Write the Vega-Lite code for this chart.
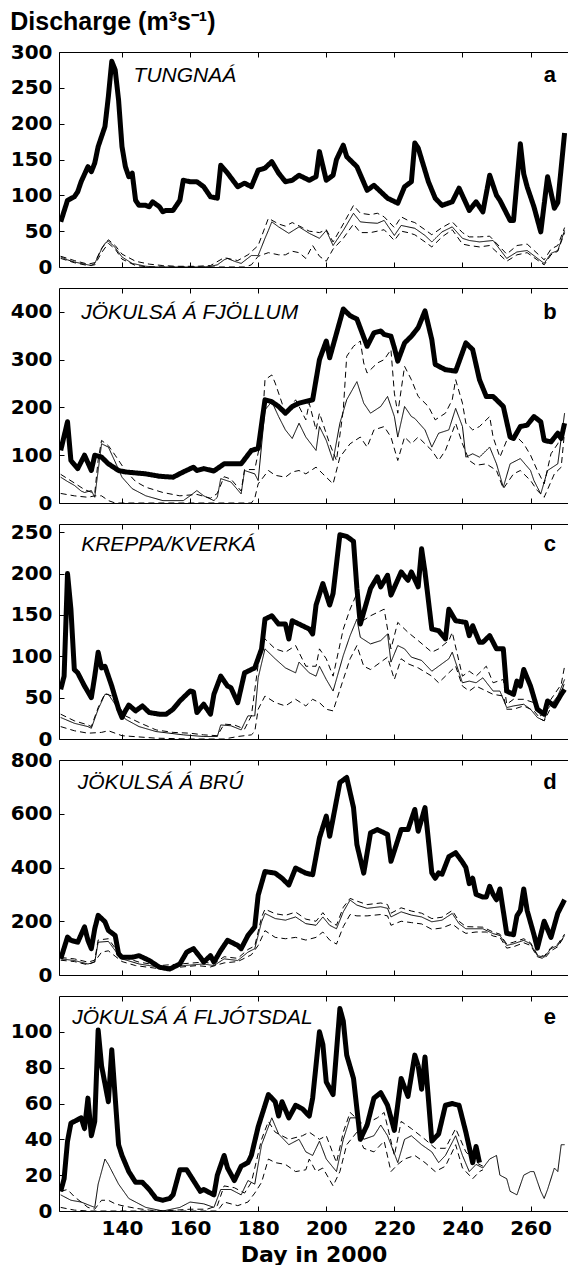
{
"$schema":"https://vega.github.io/schema/vega-lite/v6.json",
"background":"white",
"padding":{"left":10,"top":10,"right":0,"bottom":0},
"title":{"text":"Discharge (m³s⁻¹)","anchor":"start","frame":"bounds","font":"Liberation Sans","fontSize":25,"fontWeight":"bold","color":"black","offset":7},
"bounds":"flush",
"spacing":21,
"datasets":{
"a":[
{"day":122,"series":"obs","q":63},{"day":124,"series":"obs","q":93},{"day":126,"series":"obs","q":98},{"day":127,"series":"obs","q":105},{"day":128,"series":"obs","q":119},{"day":130,"series":"obs","q":140},{"day":131,"series":"obs","q":133},{"day":132,"series":"obs","q":145},{"day":133,"series":"obs","q":168},{"day":135,"series":"obs","q":196},{"day":136,"series":"obs","q":238},{"day":137,"series":"obs","q":287},{"day":138,"series":"obs","q":275},{"day":139,"series":"obs","q":233},{"day":140,"series":"obs","q":168},{"day":141,"series":"obs","q":140},{"day":142,"series":"obs","q":126},{"day":143,"series":"obs","q":131},{"day":144,"series":"obs","q":93},{"day":145,"series":"obs","q":86},{"day":147,"series":"obs","q":86},{"day":148,"series":"obs","q":84},{"day":149,"series":"obs","q":91},{"day":151,"series":"obs","q":84},{"day":152,"series":"obs","q":77},{"day":153,"series":"obs","q":79},{"day":155,"series":"obs","q":79},{"day":157,"series":"obs","q":93},{"day":158,"series":"obs","q":121},{"day":160,"series":"obs","q":119},{"day":162,"series":"obs","q":119},{"day":164,"series":"obs","q":112},{"day":166,"series":"obs","q":98},{"day":168,"series":"obs","q":96},{"day":169,"series":"obs","q":142},{"day":171,"series":"obs","q":131},{"day":174,"series":"obs","q":112},{"day":176,"series":"obs","q":117},{"day":178,"series":"obs","q":112},{"day":180,"series":"obs","q":135},{"day":182,"series":"obs","q":138},{"day":184,"series":"obs","q":147},{"day":186,"series":"obs","q":131},{"day":188,"series":"obs","q":119},{"day":190,"series":"obs","q":121},{"day":192,"series":"obs","q":128},{"day":195,"series":"obs","q":121},{"day":197,"series":"obs","q":126},{"day":198,"series":"obs","q":161},{"day":200,"series":"obs","q":121},{"day":202,"series":"obs","q":128},{"day":203,"series":"obs","q":150},{"day":205,"series":"obs","q":170},{"day":206,"series":"obs","q":154},{"day":209,"series":"obs","q":140},{"day":212,"series":"obs","q":107},{"day":214,"series":"obs","q":114},{"day":216,"series":"obs","q":105},{"day":218,"series":"obs","q":96},{"day":221,"series":"obs","q":89},{"day":223,"series":"obs","q":112},{"day":225,"series":"obs","q":119},{"day":226,"series":"obs","q":173},{"day":227,"series":"obs","q":166},{"day":230,"series":"obs","q":119},{"day":232,"series":"obs","q":96},{"day":234,"series":"obs","q":86},{"day":237,"series":"obs","q":91},{"day":239,"series":"obs","q":110},{"day":242,"series":"obs","q":79},{"day":244,"series":"obs","q":91},{"day":246,"series":"obs","q":77},{"day":248,"series":"obs","q":128},{"day":250,"series":"obs","q":100},{"day":251,"series":"obs","q":93},{"day":254,"series":"obs","q":65},{"day":255,"series":"obs","q":65},{"day":257,"series":"obs","q":172},{"day":258,"series":"obs","q":130},{"day":259,"series":"obs","q":112},{"day":261,"series":"obs","q":84},{"day":263,"series":"obs","q":49},{"day":265,"series":"obs","q":126},{"day":267,"series":"obs","q":82},{"day":268,"series":"obs","q":90},{"day":270,"series":"obs","q":187},
{"day":122,"series":"sim","q":14},{"day":124,"series":"sim","q":10},{"day":126,"series":"sim","q":7},{"day":128,"series":"sim","q":5},{"day":130,"series":"sim","q":3},{"day":131,"series":"sim","q":2},{"day":132,"series":"sim","q":5},{"day":134,"series":"sim","q":25},{"day":135,"series":"sim","q":33},{"day":136,"series":"sim","q":36},{"day":137,"series":"sim","q":32},{"day":138,"series":"sim","q":27},{"day":140,"series":"sim","q":14},{"day":143,"series":"sim","q":5},{"day":147,"series":"sim","q":1},{"day":150,"series":"sim","q":0},{"day":155,"series":"sim","q":0},{"day":160,"series":"sim","q":0},{"day":164,"series":"sim","q":0},{"day":166,"series":"sim","q":1},{"day":168,"series":"sim","q":3},{"day":170,"series":"sim","q":10},{"day":171,"series":"sim","q":12},{"day":173,"series":"sim","q":8},{"day":175,"series":"sim","q":5},{"day":178,"series":"sim","q":16},{"day":180,"series":"sim","q":16},{"day":182,"series":"sim","q":40},{"day":183,"series":"sim","q":51},{"day":184,"series":"sim","q":63},{"day":186,"series":"sim","q":56},{"day":189,"series":"sim","q":47},{"day":192,"series":"sim","q":56},{"day":195,"series":"sim","q":47},{"day":198,"series":"sim","q":40},{"day":200,"series":"sim","q":51},{"day":202,"series":"sim","q":30},{"day":205,"series":"sim","q":51},{"day":208,"series":"sim","q":75},{"day":210,"series":"sim","q":63},{"day":212,"series":"sim","q":62},{"day":215,"series":"sim","q":61},{"day":217,"series":"sim","q":65},{"day":220,"series":"sim","q":44},{"day":222,"series":"sim","q":58},{"day":226,"series":"sim","q":54},{"day":229,"series":"sim","q":44},{"day":231,"series":"sim","q":35},{"day":234,"series":"sim","q":49},{"day":237,"series":"sim","q":56},{"day":240,"series":"sim","q":40},{"day":242,"series":"sim","q":37},{"day":245,"series":"sim","q":35},{"day":249,"series":"sim","q":37},{"day":253,"series":"sim","q":12},{"day":256,"series":"sim","q":21},{"day":259,"series":"sim","q":23},{"day":264,"series":"sim","q":5},{"day":266,"series":"sim","q":19},{"day":268,"series":"sim","q":23},{"day":270,"series":"sim","q":51},
{"day":122,"series":"hi","q":15},{"day":126,"series":"hi","q":9},{"day":130,"series":"hi","q":4},{"day":132,"series":"hi","q":6},{"day":134,"series":"hi","q":26},{"day":136,"series":"hi","q":38},{"day":138,"series":"hi","q":30},{"day":140,"series":"hi","q":18},{"day":144,"series":"hi","q":8},{"day":148,"series":"hi","q":4},{"day":152,"series":"hi","q":2},{"day":156,"series":"hi","q":1},{"day":162,"series":"hi","q":1},{"day":166,"series":"hi","q":2},{"day":170,"series":"hi","q":13},{"day":174,"series":"hi","q":9},{"day":177,"series":"hi","q":17},{"day":180,"series":"hi","q":30},{"day":183,"series":"hi","q":68},{"day":186,"series":"hi","q":60},{"day":188,"series":"hi","q":57},{"day":190,"series":"hi","q":62},{"day":193,"series":"hi","q":55},{"day":195,"series":"hi","q":50},{"day":198,"series":"hi","q":48},{"day":200,"series":"hi","q":52},{"day":202,"series":"hi","q":35},{"day":205,"series":"hi","q":60},{"day":208,"series":"hi","q":86},{"day":210,"series":"hi","q":75},{"day":213,"series":"hi","q":73},{"day":215,"series":"hi","q":75},{"day":217,"series":"hi","q":70},{"day":220,"series":"hi","q":55},{"day":222,"series":"hi","q":70},{"day":224,"series":"hi","q":65},{"day":226,"series":"hi","q":62},{"day":229,"series":"hi","q":52},{"day":231,"series":"hi","q":45},{"day":234,"series":"hi","q":55},{"day":237,"series":"hi","q":63},{"day":240,"series":"hi","q":48},{"day":242,"series":"hi","q":42},{"day":245,"series":"hi","q":42},{"day":248,"series":"hi","q":43},{"day":253,"series":"hi","q":18},{"day":256,"series":"hi","q":30},{"day":259,"series":"hi","q":32},{"day":264,"series":"hi","q":10},{"day":266,"series":"hi","q":25},{"day":268,"series":"hi","q":30},{"day":270,"series":"hi","q":55},
{"day":122,"series":"lo","q":12},{"day":126,"series":"lo","q":6},{"day":130,"series":"lo","q":2},{"day":132,"series":"lo","q":3},{"day":134,"series":"lo","q":20},{"day":136,"series":"lo","q":33},{"day":138,"series":"lo","q":25},{"day":140,"series":"lo","q":11},{"day":144,"series":"lo","q":2},{"day":148,"series":"lo","q":0},{"day":160,"series":"lo","q":0},{"day":170,"series":"lo","q":0},{"day":176,"series":"lo","q":0},{"day":178,"series":"lo","q":3},{"day":180,"series":"lo","q":15},{"day":183,"series":"lo","q":20},{"day":186,"series":"lo","q":17},{"day":188,"series":"lo","q":17},{"day":190,"series":"lo","q":22},{"day":192,"series":"lo","q":20},{"day":194,"series":"lo","q":12},{"day":196,"series":"lo","q":30},{"day":198,"series":"lo","q":15},{"day":200,"series":"lo","q":8},{"day":202,"series":"lo","q":25},{"day":205,"series":"lo","q":40},{"day":208,"series":"lo","q":60},{"day":210,"series":"lo","q":48},{"day":213,"series":"lo","q":48},{"day":215,"series":"lo","q":50},{"day":217,"series":"lo","q":52},{"day":220,"series":"lo","q":37},{"day":222,"series":"lo","q":50},{"day":224,"series":"lo","q":48},{"day":226,"series":"lo","q":45},{"day":229,"series":"lo","q":35},{"day":231,"series":"lo","q":28},{"day":234,"series":"lo","q":42},{"day":237,"series":"lo","q":52},{"day":240,"series":"lo","q":32},{"day":242,"series":"lo","q":30},{"day":245,"series":"lo","q":28},{"day":248,"series":"lo","q":30},{"day":253,"series":"lo","q":8},{"day":256,"series":"lo","q":17},{"day":259,"series":"lo","q":20},{"day":264,"series":"lo","q":3},{"day":266,"series":"lo","q":17},{"day":268,"series":"lo","q":22},{"day":270,"series":"lo","q":48}
],
"b":[
{"day":122,"series":"obs","q":110},{"day":124,"series":"obs","q":170},{"day":125,"series":"obs","q":89},{"day":127,"series":"obs","q":72},{"day":129,"series":"obs","q":100},{"day":131,"series":"obs","q":68},{"day":132,"series":"obs","q":100},{"day":134,"series":"obs","q":96},{"day":136,"series":"obs","q":82},{"day":139,"series":"obs","q":68},{"day":141,"series":"obs","q":65},{"day":147,"series":"obs","q":61},{"day":151,"series":"obs","q":56},{"day":155,"series":"obs","q":54},{"day":158,"series":"obs","q":65},{"day":161,"series":"obs","q":75},{"day":162,"series":"obs","q":68},{"day":164,"series":"obs","q":72},{"day":167,"series":"obs","q":67},{"day":170,"series":"obs","q":82},{"day":175,"series":"obs","q":82},{"day":178,"series":"obs","q":110},{"day":180,"series":"obs","q":114},{"day":182,"series":"obs","q":216},{"day":184,"series":"obs","q":212},{"day":186,"series":"obs","q":202},{"day":188,"series":"obs","q":188},{"day":190,"series":"obs","q":202},{"day":192,"series":"obs","q":209},{"day":196,"series":"obs","q":216},{"day":198,"series":"obs","q":300},{"day":200,"series":"obs","q":339},{"day":201,"series":"obs","q":304},{"day":205,"series":"obs","q":406},{"day":207,"series":"obs","q":392},{"day":209,"series":"obs","q":385},{"day":212,"series":"obs","q":328},{"day":214,"series":"obs","q":356},{"day":216,"series":"obs","q":360},{"day":217,"series":"obs","q":353},{"day":219,"series":"obs","q":349},{"day":220,"series":"obs","q":325},{"day":221,"series":"obs","q":297},{"day":223,"series":"obs","q":335},{"day":225,"series":"obs","q":349},{"day":227,"series":"obs","q":367},{"day":229,"series":"obs","q":402},{"day":231,"series":"obs","q":342},{"day":232,"series":"obs","q":290},{"day":235,"series":"obs","q":279},{"day":238,"series":"obs","q":276},{"day":241,"series":"obs","q":335},{"day":243,"series":"obs","q":321},{"day":245,"series":"obs","q":258},{"day":247,"series":"obs","q":223},{"day":249,"series":"obs","q":223},{"day":251,"series":"obs","q":209},{"day":252,"series":"obs","q":202},{"day":254,"series":"obs","q":138},{"day":255,"series":"obs","q":135},{"day":257,"series":"obs","q":160},{"day":259,"series":"obs","q":163},{"day":261,"series":"obs","q":181},{"day":263,"series":"obs","q":170},{"day":264,"series":"obs","q":131},{"day":266,"series":"obs","q":128},{"day":268,"series":"obs","q":146},{"day":269,"series":"obs","q":135},{"day":270,"series":"obs","q":167},
{"day":122,"series":"sim","q":54},{"day":124,"series":"sim","q":45},{"day":126,"series":"sim","q":37},{"day":128,"series":"sim","q":25},{"day":129,"series":"sim","q":22},{"day":131,"series":"sim","q":26},{"day":132,"series":"sim","q":12},{"day":133,"series":"sim","q":68},{"day":134,"series":"sim","q":124},{"day":136,"series":"sim","q":117},{"day":138,"series":"sim","q":86},{"day":140,"series":"sim","q":54},{"day":143,"series":"sim","q":30},{"day":147,"series":"sim","q":15},{"day":152,"series":"sim","q":5},{"day":158,"series":"sim","q":5},{"day":160,"series":"sim","q":15},{"day":162,"series":"sim","q":26},{"day":164,"series":"sim","q":15},{"day":167,"series":"sim","q":5},{"day":168,"series":"sim","q":12},{"day":169,"series":"sim","q":51},{"day":172,"series":"sim","q":44},{"day":175,"series":"sim","q":19},{"day":176,"series":"sim","q":68},{"day":179,"series":"sim","q":61},{"day":180,"series":"sim","q":47},{"day":182,"series":"sim","q":195},{"day":184,"series":"sim","q":212},{"day":186,"series":"sim","q":181},{"day":188,"series":"sim","q":153},{"day":190,"series":"sim","q":135},{"day":192,"series":"sim","q":167},{"day":194,"series":"sim","q":138},{"day":197,"series":"sim","q":110},{"day":198,"series":"sim","q":160},{"day":200,"series":"sim","q":131},{"day":202,"series":"sim","q":89},{"day":204,"series":"sim","q":167},{"day":206,"series":"sim","q":216},{"day":209,"series":"sim","q":254},{"day":211,"series":"sim","q":209},{"day":213,"series":"sim","q":188},{"day":216,"series":"sim","q":202},{"day":218,"series":"sim","q":223},{"day":220,"series":"sim","q":181},{"day":221,"series":"sim","q":138},{"day":223,"series":"sim","q":202},{"day":225,"series":"sim","q":181},{"day":226,"series":"sim","q":177},{"day":229,"series":"sim","q":153},{"day":231,"series":"sim","q":117},{"day":233,"series":"sim","q":146},{"day":236,"series":"sim","q":153},{"day":238,"series":"sim","q":198},{"day":240,"series":"sim","q":160},{"day":241,"series":"sim","q":96},{"day":243,"series":"sim","q":103},{"day":245,"series":"sim","q":96},{"day":248,"series":"sim","q":117},{"day":250,"series":"sim","q":82},{"day":252,"series":"sim","q":33},{"day":254,"series":"sim","q":82},{"day":257,"series":"sim","q":93},{"day":260,"series":"sim","q":68},{"day":261,"series":"sim","q":47},{"day":263,"series":"sim","q":19},{"day":265,"series":"sim","q":68},{"day":268,"series":"sim","q":82},{"day":270,"series":"sim","q":188},
{"day":122,"series":"hi","q":60},{"day":126,"series":"hi","q":42},{"day":129,"series":"hi","q":28},{"day":132,"series":"hi","q":20},{"day":133,"series":"hi","q":90},{"day":134,"series":"hi","q":131},{"day":136,"series":"hi","q":120},{"day":138,"series":"hi","q":100},{"day":141,"series":"hi","q":68},{"day":144,"series":"hi","q":45},{"day":147,"series":"hi","q":33},{"day":152,"series":"hi","q":22},{"day":157,"series":"hi","q":15},{"day":162,"series":"hi","q":18},{"day":166,"series":"hi","q":10},{"day":168,"series":"hi","q":20},{"day":170,"series":"hi","q":55},{"day":172,"series":"hi","q":50},{"day":175,"series":"hi","q":25},{"day":176,"series":"hi","q":70},{"day":179,"series":"hi","q":70},{"day":181,"series":"hi","q":140},{"day":182,"series":"hi","q":258},{"day":184,"series":"hi","q":268},{"day":185,"series":"hi","q":251},{"day":187,"series":"hi","q":209},{"day":188,"series":"hi","q":188},{"day":191,"series":"hi","q":216},{"day":194,"series":"hi","q":174},{"day":195,"series":"hi","q":209},{"day":197,"series":"hi","q":153},{"day":198,"series":"hi","q":188},{"day":201,"series":"hi","q":124},{"day":203,"series":"hi","q":89},{"day":205,"series":"hi","q":195},{"day":206,"series":"hi","q":307},{"day":208,"series":"hi","q":328},{"day":210,"series":"hi","q":339},{"day":211,"series":"hi","q":293},{"day":212,"series":"hi","q":272},{"day":215,"series":"hi","q":293},{"day":217,"series":"hi","q":300},{"day":219,"series":"hi","q":321},{"day":220,"series":"hi","q":230},{"day":221,"series":"hi","q":188},{"day":223,"series":"hi","q":286},{"day":225,"series":"hi","q":258},{"day":227,"series":"hi","q":223},{"day":230,"series":"hi","q":202},{"day":232,"series":"hi","q":174},{"day":235,"series":"hi","q":188},{"day":237,"series":"hi","q":216},{"day":238,"series":"hi","q":258},{"day":240,"series":"hi","q":209},{"day":241,"series":"hi","q":167},{"day":243,"series":"hi","q":153},{"day":245,"series":"hi","q":160},{"day":248,"series":"hi","q":181},{"day":249,"series":"hi","q":138},{"day":251,"series":"hi","q":96},{"day":253,"series":"hi","q":131},{"day":256,"series":"hi","q":138},{"day":258,"series":"hi","q":124},{"day":260,"series":"hi","q":100},{"day":262,"series":"hi","q":68},{"day":264,"series":"hi","q":40},{"day":266,"series":"hi","q":103},{"day":268,"series":"hi","q":124},{"day":270,"series":"hi","q":167},
{"day":122,"series":"lo","q":20},{"day":126,"series":"lo","q":15},{"day":130,"series":"lo","q":12},{"day":132,"series":"lo","q":15},{"day":134,"series":"lo","q":15},{"day":136,"series":"lo","q":5},{"day":138,"series":"lo","q":0},{"day":150,"series":"lo","q":0},{"day":160,"series":"lo","q":0},{"day":170,"series":"lo","q":0},{"day":178,"series":"lo","q":0},{"day":179,"series":"lo","q":10},{"day":180,"series":"lo","q":40},{"day":183,"series":"lo","q":68},{"day":185,"series":"lo","q":58},{"day":188,"series":"lo","q":54},{"day":190,"series":"lo","q":65},{"day":192,"series":"lo","q":68},{"day":194,"series":"lo","q":61},{"day":197,"series":"lo","q":75},{"day":199,"series":"lo","q":61},{"day":202,"series":"lo","q":40},{"day":204,"series":"lo","q":96},{"day":207,"series":"lo","q":124},{"day":210,"series":"lo","q":138},{"day":212,"series":"lo","q":117},{"day":214,"series":"lo","q":153},{"day":217,"series":"lo","q":160},{"day":219,"series":"lo","q":138},{"day":221,"series":"lo","q":89},{"day":223,"series":"lo","q":138},{"day":225,"series":"lo","q":124},{"day":227,"series":"lo","q":138},{"day":231,"series":"lo","q":110},{"day":233,"series":"lo","q":89},{"day":235,"series":"lo","q":110},{"day":238,"series":"lo","q":167},{"day":240,"series":"lo","q":124},{"day":242,"series":"lo","q":89},{"day":244,"series":"lo","q":79},{"day":247,"series":"lo","q":82},{"day":250,"series":"lo","q":68},{"day":252,"series":"lo","q":30},{"day":255,"series":"lo","q":61},{"day":257,"series":"lo","q":68},{"day":260,"series":"lo","q":47},{"day":262,"series":"lo","q":26},{"day":264,"series":"lo","q":12},{"day":267,"series":"lo","q":61},{"day":269,"series":"lo","q":75},{"day":270,"series":"lo","q":150}
],
"c":[
{"day":122,"series":"obs","q":60},{"day":123,"series":"obs","q":76},{"day":124,"series":"obs","q":200},{"day":125,"series":"obs","q":157},{"day":126,"series":"obs","q":84},{"day":127,"series":"obs","q":80},{"day":129,"series":"obs","q":64},{"day":131,"series":"obs","q":50},{"day":132,"series":"obs","q":76},{"day":133,"series":"obs","q":105},{"day":134,"series":"obs","q":86},{"day":135,"series":"obs","q":88},{"day":137,"series":"obs","q":64},{"day":138,"series":"obs","q":50},{"day":139,"series":"obs","q":36},{"day":140,"series":"obs","q":26},{"day":141,"series":"obs","q":34},{"day":142,"series":"obs","q":41},{"day":144,"series":"obs","q":34},{"day":146,"series":"obs","q":40},{"day":148,"series":"obs","q":32},{"day":151,"series":"obs","q":30},{"day":153,"series":"obs","q":30},{"day":155,"series":"obs","q":36},{"day":157,"series":"obs","q":46},{"day":160,"series":"obs","q":58},{"day":161,"series":"obs","q":57},{"day":162,"series":"obs","q":32},{"day":164,"series":"obs","q":42},{"day":166,"series":"obs","q":30},{"day":167,"series":"obs","q":54},{"day":169,"series":"obs","q":76},{"day":171,"series":"obs","q":64},{"day":172,"series":"obs","q":62},{"day":174,"series":"obs","q":44},{"day":176,"series":"obs","q":80},{"day":177,"series":"obs","q":82},{"day":179,"series":"obs","q":86},{"day":181,"series":"obs","q":109},{"day":182,"series":"obs","q":145},{"day":184,"series":"obs","q":149},{"day":186,"series":"obs","q":139},{"day":188,"series":"obs","q":139},{"day":189,"series":"obs","q":121},{"day":190,"series":"obs","q":143},{"day":192,"series":"obs","q":139},{"day":195,"series":"obs","q":133},{"day":196,"series":"obs","q":127},{"day":197,"series":"obs","q":162},{"day":199,"series":"obs","q":188},{"day":201,"series":"obs","q":162},{"day":202,"series":"obs","q":176},{"day":204,"series":"obs","q":247},{"day":206,"series":"obs","q":245},{"day":208,"series":"obs","q":239},{"day":209,"series":"obs","q":182},{"day":210,"series":"obs","q":139},{"day":213,"series":"obs","q":182},{"day":215,"series":"obs","q":196},{"day":216,"series":"obs","q":184},{"day":218,"series":"obs","q":198},{"day":219,"series":"obs","q":174},{"day":222,"series":"obs","q":202},{"day":224,"series":"obs","q":192},{"day":225,"series":"obs","q":202},{"day":227,"series":"obs","q":184},{"day":228,"series":"obs","q":230},{"day":229,"series":"obs","q":202},{"day":231,"series":"obs","q":133},{"day":233,"series":"obs","q":131},{"day":235,"series":"obs","q":121},{"day":236,"series":"obs","q":157},{"day":238,"series":"obs","q":143},{"day":241,"series":"obs","q":141},{"day":242,"series":"obs","q":125},{"day":243,"series":"obs","q":137},{"day":245,"series":"obs","q":117},{"day":246,"series":"obs","q":117},{"day":248,"series":"obs","q":125},{"day":250,"series":"obs","q":109},{"day":252,"series":"obs","q":109},{"day":253,"series":"obs","q":58},{"day":255,"series":"obs","q":54},{"day":256,"series":"obs","q":70},{"day":257,"series":"obs","q":64},{"day":258,"series":"obs","q":84},{"day":260,"series":"obs","q":64},{"day":262,"series":"obs","q":36},{"day":264,"series":"obs","q":30},{"day":265,"series":"obs","q":46},{"day":267,"series":"obs","q":40},{"day":269,"series":"obs","q":54},{"day":270,"series":"obs","q":60},
{"day":122,"series":"sim","q":26},{"day":126,"series":"sim","q":19},{"day":130,"series":"sim","q":15},{"day":131,"series":"sim","q":13},{"day":133,"series":"sim","q":36},{"day":135,"series":"sim","q":54},{"day":136,"series":"sim","q":54},{"day":139,"series":"sim","q":36},{"day":141,"series":"sim","q":24},{"day":145,"series":"sim","q":15},{"day":150,"series":"sim","q":9},{"day":158,"series":"sim","q":5},{"day":164,"series":"sim","q":3},{"day":168,"series":"sim","q":3},{"day":169,"series":"sim","q":17},{"day":172,"series":"sim","q":16},{"day":175,"series":"sim","q":11},{"day":177,"series":"sim","q":28},{"day":179,"series":"sim","q":28},{"day":180,"series":"sim","q":74},{"day":182,"series":"sim","q":109},{"day":185,"series":"sim","q":97},{"day":188,"series":"sim","q":86},{"day":191,"series":"sim","q":80},{"day":192,"series":"sim","q":93},{"day":195,"series":"sim","q":80},{"day":197,"series":"sim","q":76},{"day":198,"series":"sim","q":88},{"day":200,"series":"sim","q":72},{"day":202,"series":"sim","q":58},{"day":205,"series":"sim","q":101},{"day":207,"series":"sim","q":125},{"day":209,"series":"sim","q":145},{"day":210,"series":"sim","q":123},{"day":213,"series":"sim","q":115},{"day":216,"series":"sim","q":119},{"day":218,"series":"sim","q":127},{"day":219,"series":"sim","q":93},{"day":221,"series":"sim","q":113},{"day":223,"series":"sim","q":109},{"day":225,"series":"sim","q":99},{"day":228,"series":"sim","q":95},{"day":231,"series":"sim","q":82},{"day":233,"series":"sim","q":88},{"day":236,"series":"sim","q":97},{"day":237,"series":"sim","q":105},{"day":240,"series":"sim","q":68},{"day":242,"series":"sim","q":70},{"day":244,"series":"sim","q":68},{"day":246,"series":"sim","q":74},{"day":249,"series":"sim","q":58},{"day":251,"series":"sim","q":58},{"day":253,"series":"sim","q":38},{"day":255,"series":"sim","q":40},{"day":258,"series":"sim","q":42},{"day":260,"series":"sim","q":36},{"day":262,"series":"sim","q":26},{"day":264,"series":"sim","q":22},{"day":265,"series":"sim","q":36},{"day":268,"series":"sim","q":52},{"day":270,"series":"sim","q":72},
{"day":122,"series":"hi","q":30},{"day":126,"series":"hi","q":22},{"day":130,"series":"hi","q":17},{"day":131,"series":"hi","q":15},{"day":133,"series":"hi","q":38},{"day":135,"series":"hi","q":55},{"day":137,"series":"hi","q":52},{"day":139,"series":"hi","q":40},{"day":141,"series":"hi","q":28},{"day":145,"series":"hi","q":20},{"day":150,"series":"hi","q":11},{"day":155,"series":"hi","q":8},{"day":160,"series":"hi","q":7},{"day":164,"series":"hi","q":5},{"day":168,"series":"hi","q":4},{"day":170,"series":"hi","q":18},{"day":173,"series":"hi","q":17},{"day":176,"series":"hi","q":12},{"day":178,"series":"hi","q":28},{"day":180,"series":"hi","q":90},{"day":182,"series":"hi","q":121},{"day":185,"series":"hi","q":109},{"day":188,"series":"hi","q":105},{"day":191,"series":"hi","q":113},{"day":194,"series":"hi","q":88},{"day":197,"series":"hi","q":88},{"day":198,"series":"hi","q":109},{"day":200,"series":"hi","q":97},{"day":202,"series":"hi","q":76},{"day":205,"series":"hi","q":133},{"day":207,"series":"hi","q":157},{"day":209,"series":"hi","q":176},{"day":210,"series":"hi","q":141},{"day":213,"series":"hi","q":149},{"day":216,"series":"hi","q":155},{"day":217,"series":"hi","q":157},{"day":219,"series":"hi","q":109},{"day":221,"series":"hi","q":141},{"day":224,"series":"hi","q":129},{"day":227,"series":"hi","q":119},{"day":231,"series":"hi","q":105},{"day":233,"series":"hi","q":109},{"day":236,"series":"hi","q":119},{"day":237,"series":"hi","q":129},{"day":240,"series":"hi","q":76},{"day":242,"series":"hi","q":82},{"day":244,"series":"hi","q":76},{"day":247,"series":"hi","q":88},{"day":249,"series":"hi","q":68},{"day":252,"series":"hi","q":72},{"day":253,"series":"hi","q":42},{"day":255,"series":"hi","q":48},{"day":258,"series":"hi","q":48},{"day":261,"series":"hi","q":44},{"day":263,"series":"hi","q":28},{"day":264,"series":"hi","q":32},{"day":266,"series":"hi","q":48},{"day":269,"series":"hi","q":66},{"day":270,"series":"hi","q":88},
{"day":122,"series":"lo","q":15},{"day":126,"series":"lo","q":10},{"day":130,"series":"lo","q":7},{"day":134,"series":"lo","q":8},{"day":136,"series":"lo","q":10},{"day":140,"series":"lo","q":4},{"day":150,"series":"lo","q":1},{"day":160,"series":"lo","q":0},{"day":170,"series":"lo","q":0},{"day":174,"series":"lo","q":3},{"day":178,"series":"lo","q":5},{"day":179,"series":"lo","q":9},{"day":180,"series":"lo","q":36},{"day":182,"series":"lo","q":52},{"day":185,"series":"lo","q":44},{"day":188,"series":"lo","q":40},{"day":191,"series":"lo","q":48},{"day":194,"series":"lo","q":40},{"day":196,"series":"lo","q":48},{"day":198,"series":"lo","q":44},{"day":200,"series":"lo","q":36},{"day":202,"series":"lo","q":34},{"day":205,"series":"lo","q":72},{"day":207,"series":"lo","q":97},{"day":209,"series":"lo","q":113},{"day":211,"series":"lo","q":88},{"day":213,"series":"lo","q":84},{"day":216,"series":"lo","q":93},{"day":218,"series":"lo","q":99},{"day":220,"series":"lo","q":72},{"day":222,"series":"lo","q":97},{"day":224,"series":"lo","q":91},{"day":227,"series":"lo","q":86},{"day":231,"series":"lo","q":76},{"day":233,"series":"lo","q":68},{"day":236,"series":"lo","q":80},{"day":238,"series":"lo","q":88},{"day":240,"series":"lo","q":64},{"day":242,"series":"lo","q":58},{"day":244,"series":"lo","q":64},{"day":247,"series":"lo","q":58},{"day":249,"series":"lo","q":54},{"day":252,"series":"lo","q":52},{"day":253,"series":"lo","q":36},{"day":255,"series":"lo","q":36},{"day":258,"series":"lo","q":40},{"day":261,"series":"lo","q":34},{"day":263,"series":"lo","q":24},{"day":264,"series":"lo","q":22},{"day":266,"series":"lo","q":38},{"day":269,"series":"lo","q":56},{"day":270,"series":"lo","q":68}
],
"d":[
{"day":122,"series":"obs","q":60},{"day":124,"series":"obs","q":141},{"day":125,"series":"obs","q":129},{"day":127,"series":"obs","q":122},{"day":129,"series":"obs","q":179},{"day":130,"series":"obs","q":129},{"day":131,"series":"obs","q":98},{"day":132,"series":"obs","q":172},{"day":133,"series":"obs","q":222},{"day":135,"series":"obs","q":198},{"day":136,"series":"obs","q":166},{"day":138,"series":"obs","q":147},{"day":139,"series":"obs","q":79},{"day":140,"series":"obs","q":66},{"day":143,"series":"obs","q":66},{"day":145,"series":"obs","q":72},{"day":148,"series":"obs","q":54},{"day":151,"series":"obs","q":29},{"day":154,"series":"obs","q":22},{"day":157,"series":"obs","q":41},{"day":159,"series":"obs","q":85},{"day":161,"series":"obs","q":98},{"day":163,"series":"obs","q":66},{"day":164,"series":"obs","q":48},{"day":166,"series":"obs","q":72},{"day":167,"series":"obs","q":48},{"day":169,"series":"obs","q":91},{"day":171,"series":"obs","q":129},{"day":174,"series":"obs","q":110},{"day":175,"series":"obs","q":98},{"day":177,"series":"obs","q":147},{"day":179,"series":"obs","q":179},{"day":180,"series":"obs","q":297},{"day":182,"series":"obs","q":385},{"day":185,"series":"obs","q":379},{"day":187,"series":"obs","q":360},{"day":189,"series":"obs","q":335},{"day":191,"series":"obs","q":398},{"day":194,"series":"obs","q":379},{"day":196,"series":"obs","q":373},{"day":198,"series":"obs","q":510},{"day":200,"series":"obs","q":591},{"day":201,"series":"obs","q":516},{"day":204,"series":"obs","q":716},{"day":206,"series":"obs","q":735},{"day":208,"series":"obs","q":623},{"day":209,"series":"obs","q":485},{"day":211,"series":"obs","q":379},{"day":213,"series":"obs","q":529},{"day":215,"series":"obs","q":541},{"day":218,"series":"obs","q":523},{"day":219,"series":"obs","q":423},{"day":222,"series":"obs","q":541},{"day":224,"series":"obs","q":541},{"day":226,"series":"obs","q":616},{"day":227,"series":"obs","q":535},{"day":229,"series":"obs","q":623},{"day":231,"series":"obs","q":380},{"day":232,"series":"obs","q":360},{"day":233,"series":"obs","q":380},{"day":234,"series":"obs","q":375},{"day":236,"series":"obs","q":440},{"day":238,"series":"obs","q":455},{"day":240,"series":"obs","q":420},{"day":241,"series":"obs","q":400},{"day":242,"series":"obs","q":340},{"day":243,"series":"obs","q":360},{"day":244,"series":"obs","q":300},{"day":246,"series":"obs","q":290},{"day":247,"series":"obs","q":290},{"day":248,"series":"obs","q":330},{"day":249,"series":"obs","q":300},{"day":250,"series":"obs","q":280},{"day":251,"series":"obs","q":320},{"day":253,"series":"obs","q":155},{"day":255,"series":"obs","q":150},{"day":256,"series":"obs","q":220},{"day":257,"series":"obs","q":240},{"day":258,"series":"obs","q":320},{"day":259,"series":"obs","q":240},{"day":261,"series":"obs","q":150},{"day":262,"series":"obs","q":100},{"day":264,"series":"obs","q":200},{"day":266,"series":"obs","q":140},{"day":268,"series":"obs","q":230},{"day":270,"series":"obs","q":280},
{"day":122,"series":"sim","q":60},{"day":126,"series":"sim","q":54},{"day":130,"series":"sim","q":41},{"day":132,"series":"sim","q":48},{"day":133,"series":"sim","q":122},{"day":136,"series":"sim","q":125},{"day":138,"series":"sim","q":91},{"day":140,"series":"sim","q":60},{"day":145,"series":"sim","q":41},{"day":151,"series":"sim","q":29},{"day":158,"series":"sim","q":35},{"day":164,"series":"sim","q":41},{"day":167,"series":"sim","q":35},{"day":170,"series":"sim","q":60},{"day":174,"series":"sim","q":54},{"day":177,"series":"sim","q":85},{"day":179,"series":"sim","q":98},{"day":181,"series":"sim","q":198},{"day":182,"series":"sim","q":229},{"day":185,"series":"sim","q":210},{"day":188,"series":"sim","q":204},{"day":191,"series":"sim","q":216},{"day":194,"series":"sim","q":191},{"day":197,"series":"sim","q":185},{"day":199,"series":"sim","q":216},{"day":201,"series":"sim","q":185},{"day":203,"series":"sim","q":172},{"day":205,"series":"sim","q":235},{"day":207,"series":"sim","q":279},{"day":209,"series":"sim","q":260},{"day":212,"series":"sim","q":248},{"day":216,"series":"sim","q":254},{"day":218,"series":"sim","q":248},{"day":219,"series":"sim","q":216},{"day":222,"series":"sim","q":235},{"day":225,"series":"sim","q":223},{"day":228,"series":"sim","q":216},{"day":231,"series":"sim","q":198},{"day":234,"series":"sim","q":204},{"day":237,"series":"sim","q":229},{"day":239,"series":"sim","q":191},{"day":241,"series":"sim","q":172},{"day":246,"series":"sim","q":172},{"day":249,"series":"sim","q":154},{"day":251,"series":"sim","q":147},{"day":253,"series":"sim","q":110},{"day":255,"series":"sim","q":116},{"day":258,"series":"sim","q":129},{"day":260,"series":"sim","q":116},{"day":262,"series":"sim","q":72},{"day":264,"series":"sim","q":66},{"day":266,"series":"sim","q":98},{"day":268,"series":"sim","q":110},{"day":270,"series":"sim","q":147},
{"day":122,"series":"hi","q":65},{"day":126,"series":"hi","q":60},{"day":130,"series":"hi","q":48},{"day":132,"series":"hi","q":55},{"day":133,"series":"hi","q":130},{"day":136,"series":"hi","q":135},{"day":138,"series":"hi","q":100},{"day":140,"series":"hi","q":68},{"day":145,"series":"hi","q":48},{"day":151,"series":"hi","q":35},{"day":158,"series":"hi","q":42},{"day":164,"series":"hi","q":48},{"day":167,"series":"hi","q":42},{"day":170,"series":"hi","q":68},{"day":174,"series":"hi","q":62},{"day":177,"series":"hi","q":95},{"day":179,"series":"hi","q":108},{"day":181,"series":"hi","q":215},{"day":182,"series":"hi","q":245},{"day":185,"series":"hi","q":228},{"day":188,"series":"hi","q":222},{"day":191,"series":"hi","q":234},{"day":194,"series":"hi","q":208},{"day":197,"series":"hi","q":200},{"day":199,"series":"hi","q":232},{"day":201,"series":"hi","q":200},{"day":203,"series":"hi","q":185},{"day":205,"series":"hi","q":252},{"day":207,"series":"hi","q":285},{"day":209,"series":"hi","q":275},{"day":212,"series":"hi","q":262},{"day":216,"series":"hi","q":268},{"day":218,"series":"hi","q":262},{"day":219,"series":"hi","q":230},{"day":222,"series":"hi","q":250},{"day":225,"series":"hi","q":238},{"day":228,"series":"hi","q":230},{"day":231,"series":"hi","q":210},{"day":234,"series":"hi","q":215},{"day":237,"series":"hi","q":240},{"day":239,"series":"hi","q":200},{"day":241,"series":"hi","q":180},{"day":246,"series":"hi","q":178},{"day":249,"series":"hi","q":160},{"day":251,"series":"hi","q":152},{"day":253,"series":"hi","q":115},{"day":255,"series":"hi","q":122},{"day":258,"series":"hi","q":135},{"day":260,"series":"hi","q":120},{"day":262,"series":"hi","q":76},{"day":264,"series":"hi","q":70},{"day":266,"series":"hi","q":102},{"day":268,"series":"hi","q":115},{"day":270,"series":"hi","q":152},
{"day":122,"series":"lo","q":55},{"day":126,"series":"lo","q":50},{"day":130,"series":"lo","q":38},{"day":132,"series":"lo","q":50},{"day":134,"series":"lo","q":85},{"day":136,"series":"lo","q":90},{"day":138,"series":"lo","q":70},{"day":140,"series":"lo","q":50},{"day":144,"series":"lo","q":35},{"day":150,"series":"lo","q":25},{"day":156,"series":"lo","q":28},{"day":162,"series":"lo","q":35},{"day":166,"series":"lo","q":30},{"day":170,"series":"lo","q":45},{"day":174,"series":"lo","q":50},{"day":178,"series":"lo","q":75},{"day":180,"series":"lo","q":110},{"day":182,"series":"lo","q":165},{"day":185,"series":"lo","q":140},{"day":188,"series":"lo","q":135},{"day":191,"series":"lo","q":140},{"day":194,"series":"lo","q":130},{"day":197,"series":"lo","q":140},{"day":199,"series":"lo","q":160},{"day":201,"series":"lo","q":130},{"day":203,"series":"lo","q":115},{"day":205,"series":"lo","q":180},{"day":207,"series":"lo","q":225},{"day":209,"series":"lo","q":220},{"day":212,"series":"lo","q":220},{"day":216,"series":"lo","q":225},{"day":218,"series":"lo","q":220},{"day":219,"series":"lo","q":185},{"day":222,"series":"lo","q":200},{"day":225,"series":"lo","q":195},{"day":228,"series":"lo","q":190},{"day":231,"series":"lo","q":170},{"day":234,"series":"lo","q":175},{"day":237,"series":"lo","q":190},{"day":239,"series":"lo","q":170},{"day":241,"series":"lo","q":155},{"day":244,"series":"lo","q":160},{"day":247,"series":"lo","q":160},{"day":249,"series":"lo","q":145},{"day":251,"series":"lo","q":140},{"day":253,"series":"lo","q":100},{"day":255,"series":"lo","q":105},{"day":258,"series":"lo","q":120},{"day":260,"series":"lo","q":110},{"day":262,"series":"lo","q":68},{"day":264,"series":"lo","q":60},{"day":266,"series":"lo","q":90},{"day":268,"series":"lo","q":105},{"day":270,"series":"lo","q":145}
],
"e":[
{"day":122,"series":"obs","q":11},{"day":123,"series":"obs","q":18},{"day":124,"series":"obs","q":39},{"day":125,"series":"obs","q":49},{"day":126,"series":"obs","q":50},{"day":128,"series":"obs","q":52},{"day":129,"series":"obs","q":46},{"day":130,"series":"obs","q":63},{"day":131,"series":"obs","q":42},{"day":132,"series":"obs","q":50},{"day":133,"series":"obs","q":101},{"day":134,"series":"obs","q":81},{"day":136,"series":"obs","q":61},{"day":137,"series":"obs","q":90},{"day":139,"series":"obs","q":37},{"day":140,"series":"obs","q":31},{"day":142,"series":"obs","q":22},{"day":144,"series":"obs","q":16},{"day":146,"series":"obs","q":16},{"day":148,"series":"obs","q":12},{"day":150,"series":"obs","q":7},{"day":152,"series":"obs","q":6},{"day":154,"series":"obs","q":7},{"day":155,"series":"obs","q":9},{"day":157,"series":"obs","q":23},{"day":159,"series":"obs","q":23},{"day":161,"series":"obs","q":17},{"day":163,"series":"obs","q":11},{"day":164,"series":"obs","q":12},{"day":167,"series":"obs","q":9},{"day":168,"series":"obs","q":20},{"day":170,"series":"obs","q":31},{"day":171,"series":"obs","q":24},{"day":173,"series":"obs","q":17},{"day":175,"series":"obs","q":25},{"day":177,"series":"obs","q":27},{"day":178,"series":"obs","q":31},{"day":180,"series":"obs","q":47},{"day":181,"series":"obs","q":53},{"day":183,"series":"obs","q":65},{"day":185,"series":"obs","q":61},{"day":186,"series":"obs","q":53},{"day":187,"series":"obs","q":61},{"day":189,"series":"obs","q":52},{"day":191,"series":"obs","q":59},{"day":193,"series":"obs","q":57},{"day":195,"series":"obs","q":53},{"day":196,"series":"obs","q":63},{"day":198,"series":"obs","q":100},{"day":199,"series":"obs","q":93},{"day":200,"series":"obs","q":72},{"day":202,"series":"obs","q":65},{"day":204,"series":"obs","q":113},{"day":205,"series":"obs","q":106},{"day":206,"series":"obs","q":87},{"day":208,"series":"obs","q":74},{"day":210,"series":"obs","q":40},{"day":212,"series":"obs","q":48},{"day":214,"series":"obs","q":63},{"day":216,"series":"obs","q":66},{"day":218,"series":"obs","q":59},{"day":220,"series":"obs","q":45},{"day":222,"series":"obs","q":74},{"day":223,"series":"obs","q":69},{"day":224,"series":"obs","q":64},{"day":226,"series":"obs","q":87},{"day":227,"series":"obs","q":81},{"day":228,"series":"obs","q":68},{"day":229,"series":"obs","q":86},{"day":231,"series":"obs","q":39},{"day":233,"series":"obs","q":43},{"day":235,"series":"obs","q":59},{"day":237,"series":"obs","q":60},{"day":239,"series":"obs","q":59},{"day":241,"series":"obs","q":44},{"day":243,"series":"obs","q":27},{"day":244,"series":"obs","q":36},{"day":245,"series":"obs","q":27},
{"day":122,"series":"sim","q":9},{"day":125,"series":"sim","q":6},{"day":128,"series":"sim","q":5},{"day":132,"series":"sim","q":2},{"day":133,"series":"sim","q":15},{"day":135,"series":"sim","q":29},{"day":136,"series":"sim","q":26},{"day":139,"series":"sim","q":15},{"day":142,"series":"sim","q":7},{"day":147,"series":"sim","q":2},{"day":152,"series":"sim","q":0},{"day":157,"series":"sim","q":2},{"day":160,"series":"sim","q":5},{"day":164,"series":"sim","q":4},{"day":167,"series":"sim","q":2},{"day":169,"series":"sim","q":12},{"day":172,"series":"sim","q":12},{"day":175,"series":"sim","q":9},{"day":177,"series":"sim","q":17},{"day":179,"series":"sim","q":15},{"day":181,"series":"sim","q":37},{"day":184,"series":"sim","q":52},{"day":186,"series":"sim","q":43},{"day":189,"series":"sim","q":37},{"day":192,"series":"sim","q":40},{"day":194,"series":"sim","q":33},{"day":196,"series":"sim","q":31},{"day":198,"series":"sim","q":39},{"day":200,"series":"sim","q":29},{"day":203,"series":"sim","q":22},{"day":205,"series":"sim","q":40},{"day":207,"series":"sim","q":52},{"day":209,"series":"sim","q":52},{"day":211,"series":"sim","q":40},{"day":214,"series":"sim","q":42},{"day":216,"series":"sim","q":48},{"day":218,"series":"sim","q":42},{"day":221,"series":"sim","q":27},{"day":223,"series":"sim","q":40},{"day":225,"series":"sim","q":42},{"day":228,"series":"sim","q":37},{"day":231,"series":"sim","q":33},{"day":233,"series":"sim","q":27},{"day":235,"series":"sim","q":31},{"day":238,"series":"sim","q":42},{"day":240,"series":"sim","q":31},{"day":242,"series":"sim","q":22},{"day":244,"series":"sim","q":26},{"day":246,"series":"sim","q":24},{"day":248,"series":"sim","q":29},{"day":250,"series":"sim","q":31},{"day":251,"series":"sim","q":20},{"day":253,"series":"sim","q":18},{"day":254,"series":"sim","q":11},{"day":256,"series":"sim","q":9},{"day":258,"series":"sim","q":20},{"day":260,"series":"sim","q":22},{"day":261,"series":"sim","q":22},{"day":263,"series":"sim","q":11},{"day":264,"series":"sim","q":7},{"day":265,"series":"sim","q":12},{"day":267,"series":"sim","q":24},{"day":268,"series":"sim","q":22},{"day":269,"series":"sim","q":37},{"day":270,"series":"sim","q":37},
{"day":122,"series":"hi","q":11},{"day":124,"series":"hi","q":12},{"day":126,"series":"hi","q":8},{"day":128,"series":"hi","q":5},{"day":130,"series":"hi","q":2},{"day":132,"series":"hi","q":1},{"day":134,"series":"hi","q":6},{"day":136,"series":"hi","q":6},{"day":138,"series":"hi","q":4},{"day":140,"series":"hi","q":3},{"day":144,"series":"hi","q":1.5},{"day":148,"series":"hi","q":0.5},{"day":152,"series":"hi","q":0},{"day":160,"series":"hi","q":1},{"day":165,"series":"hi","q":1},{"day":168,"series":"hi","q":3},{"day":170,"series":"hi","q":14},{"day":173,"series":"hi","q":13},{"day":176,"series":"hi","q":10},{"day":178,"series":"hi","q":16},{"day":181,"series":"hi","q":40},{"day":183,"series":"hi","q":50},{"day":185,"series":"hi","q":44},{"day":189,"series":"hi","q":40},{"day":193,"series":"hi","q":42},{"day":195,"series":"hi","q":44},{"day":198,"series":"hi","q":40},{"day":200,"series":"hi","q":42},{"day":203,"series":"hi","q":27},{"day":205,"series":"hi","q":44},{"day":207,"series":"hi","q":55},{"day":211,"series":"hi","q":48},{"day":215,"series":"hi","q":52},{"day":217,"series":"hi","q":55},{"day":220,"series":"hi","q":31},{"day":222,"series":"hi","q":50},{"day":225,"series":"hi","q":46},{"day":229,"series":"hi","q":40},{"day":232,"series":"hi","q":35},{"day":235,"series":"hi","q":35},{"day":238,"series":"hi","q":46},{"day":241,"series":"hi","q":33},{"day":244,"series":"hi","q":27},{"day":246,"series":"hi","q":25},
{"day":122,"series":"lo","q":2},{"day":126,"series":"lo","q":0.5},{"day":130,"series":"lo","q":0},{"day":150,"series":"lo","q":0},{"day":160,"series":"lo","q":0},{"day":168,"series":"lo","q":0},{"day":170,"series":"lo","q":5},{"day":174,"series":"lo","q":3},{"day":177,"series":"lo","q":5},{"day":179,"series":"lo","q":10},{"day":181,"series":"lo","q":16},{"day":183,"series":"lo","q":29},{"day":185,"series":"lo","q":27},{"day":188,"series":"lo","q":26},{"day":191,"series":"lo","q":22},{"day":194,"series":"lo","q":23},{"day":195,"series":"lo","q":29},{"day":197,"series":"lo","q":22},{"day":199,"series":"lo","q":24},{"day":202,"series":"lo","q":14},{"day":204,"series":"lo","q":22},{"day":206,"series":"lo","q":37},{"day":209,"series":"lo","q":44},{"day":211,"series":"lo","q":35},{"day":214,"series":"lo","q":33},{"day":217,"series":"lo","q":39},{"day":219,"series":"lo","q":22},{"day":221,"series":"lo","q":26},{"day":223,"series":"lo","q":29},{"day":226,"series":"lo","q":31},{"day":229,"series":"lo","q":27},{"day":232,"series":"lo","q":22},{"day":235,"series":"lo","q":25},{"day":238,"series":"lo","q":37},{"day":240,"series":"lo","q":24},{"day":243,"series":"lo","q":18},{"day":245,"series":"lo","q":22},{"day":246,"series":"lo","q":23}
]
},
"vconcat":[
{"data":{"name":"a"},"width":509,"height":215,"resolve":{"axis":{"x":"independent"}},
"layer":[
{"mark":{"type":"line","clip":true,"strokeJoin":"round","color":"black"},
"encoding":{
"x":{"field":"day","type":"quantitative","scale":{"domain":[121.5,271],"nice":false,"zero":false},"axis":{"orient":"bottom","values":[140,160,180,200,220,240,260],"labels":false,"title":null}},
"y":{"field":"q","type":"quantitative","scale":{"domain":[0,300],"nice":false},"axis":{"values":[0,50,100,150,200,250,300],"title":null,"labelOverlap":false,"labelSeparation":0,"labelBound":false}},
"detail":{"field":"series","type":"nominal"},
"strokeWidth":{"field":"series","type":"nominal","scale":{"type":"ordinal","domain":["obs","sim","lo","hi"],"range":[5,1,1,1]},"legend":null},
"strokeDash":{"field":"series","type":"nominal","scale":{"type":"ordinal","domain":["obs","sim","lo","hi"],"range":[[1,0],[1,0],[6,4],[6,4]]},"legend":null}}},
{"data":{"values":[{"river":"TUNGNAÁ","letter":"a"}]},
"mark":{"type":"text","align":"left","baseline":"alphabetic","font":"Liberation Sans","fontStyle":"italic","fontSize":21,"color":"black"},
"encoding":{"x":{"datum":143.4,"type":"quantitative","axis":{"orient":"top","values":[140,160,180,200,220,240,260],"labels":false,"title":null}},"y":{"datum":258,"type":"quantitative","axis":{"values":[0,50,100,150,200,250,300],"title":null,"labelOverlap":false}},"text":{"field":"river"}}},
{"data":{"values":[{"river":"TUNGNAÁ","letter":"a"}]},
"mark":{"type":"text","align":"center","baseline":"alphabetic","font":"Liberation Sans","fontWeight":"bold","fontSize":22,"color":"black"},
"encoding":{"x":{"datum":265.7,"type":"quantitative","axis":null},"y":{"datum":258,"type":"quantitative","axis":{"values":[0,50,100,150,200,250,300],"title":null,"labelOverlap":false}},"text":{"field":"letter"}}}
]},
{"data":{"name":"b"},"width":509,"height":215,"resolve":{"axis":{"x":"independent"}},
"layer":[
{"mark":{"type":"line","clip":true,"strokeJoin":"round","color":"black"},
"encoding":{
"x":{"field":"day","type":"quantitative","scale":{"domain":[121.5,271],"nice":false,"zero":false},"axis":{"orient":"bottom","values":[140,160,180,200,220,240,260],"labels":false,"title":null}},
"y":{"field":"q","type":"quantitative","scale":{"domain":[0,450],"nice":false},"axis":{"values":[0,50,100,150,200,250,300,350,400],"labelExpr":"datum.value % 100 === 0 ? datum.label : ''","title":null}},
"detail":{"field":"series","type":"nominal"},
"strokeWidth":{"field":"series","type":"nominal","scale":{"type":"ordinal","domain":["obs","sim","lo","hi"],"range":[5,1,1,1]},"legend":null},
"strokeDash":{"field":"series","type":"nominal","scale":{"type":"ordinal","domain":["obs","sim","lo","hi"],"range":[[1,0],[1,0],[6,4],[6,4]]},"legend":null}}},
{"data":{"values":[{"river":"JÖKULSÁ Á FJÖLLUM","letter":"b"}]},
"mark":{"type":"text","align":"left","baseline":"alphabetic","font":"Liberation Sans","fontStyle":"italic","fontSize":21,"color":"black"},
"encoding":{"x":{"datum":128,"type":"quantitative","axis":{"orient":"top","values":[140,160,180,200,220,240,260],"labels":false,"title":null}},"y":{"datum":386,"type":"quantitative"},"text":{"field":"river"}}},
{"data":{"values":[{"river":"JÖKULSÁ Á FJÖLLUM","letter":"b"}]},
"mark":{"type":"text","align":"center","baseline":"alphabetic","font":"Liberation Sans","fontWeight":"bold","fontSize":22,"color":"black"},
"encoding":{"x":{"datum":265.7,"type":"quantitative","axis":null},"y":{"datum":386,"type":"quantitative"},"text":{"field":"letter"}}}
]},
{"data":{"name":"c"},"width":509,"height":215,"resolve":{"axis":{"x":"independent"}},
"layer":[
{"mark":{"type":"line","clip":true,"strokeJoin":"round","color":"black"},
"encoding":{
"x":{"field":"day","type":"quantitative","scale":{"domain":[121.5,271],"nice":false,"zero":false},"axis":{"orient":"bottom","values":[140,160,180,200,220,240,260],"labels":false,"title":null}},
"y":{"field":"q","type":"quantitative","scale":{"domain":[0,260],"nice":false},"axis":{"values":[0,50,100,150,200,250],"title":null}},
"detail":{"field":"series","type":"nominal"},
"strokeWidth":{"field":"series","type":"nominal","scale":{"type":"ordinal","domain":["obs","sim","lo","hi"],"range":[5,1,1,1]},"legend":null},
"strokeDash":{"field":"series","type":"nominal","scale":{"type":"ordinal","domain":["obs","sim","lo","hi"],"range":[[1,0],[1,0],[6,4],[6,4]]},"legend":null}}},
{"data":{"values":[{"river":"KREPPA/KVERKÁ","letter":"c"}]},
"mark":{"type":"text","align":"left","baseline":"alphabetic","font":"Liberation Sans","fontStyle":"italic","fontSize":21,"color":"black"},
"encoding":{"x":{"datum":128,"type":"quantitative","axis":{"orient":"top","values":[140,160,180,200,220,240,260],"labels":false,"title":null}},"y":{"datum":227,"type":"quantitative"},"text":{"field":"river"}}},
{"data":{"values":[{"river":"KREPPA/KVERKÁ","letter":"c"}]},
"mark":{"type":"text","align":"center","baseline":"alphabetic","font":"Liberation Sans","fontWeight":"bold","fontSize":22,"color":"black"},
"encoding":{"x":{"datum":265.7,"type":"quantitative","axis":null},"y":{"datum":227,"type":"quantitative"},"text":{"field":"letter"}}}
]},
{"data":{"name":"d"},"width":509,"height":215,"resolve":{"axis":{"x":"independent"}},
"layer":[
{"mark":{"type":"line","clip":true,"strokeJoin":"round","color":"black"},
"encoding":{
"x":{"field":"day","type":"quantitative","scale":{"domain":[121.5,271],"nice":false,"zero":false},"axis":{"orient":"bottom","values":[140,160,180,200,220,240,260],"labels":false,"title":null}},
"y":{"field":"q","type":"quantitative","scale":{"domain":[0,800],"nice":false},"axis":{"values":[0,100,200,300,400,500,600,700,800],"labelExpr":"datum.value % 200 === 0 ? datum.label : ''","title":null}},
"detail":{"field":"series","type":"nominal"},
"strokeWidth":{"field":"series","type":"nominal","scale":{"type":"ordinal","domain":["obs","sim","lo","hi"],"range":[5,1,1,1]},"legend":null},
"strokeDash":{"field":"series","type":"nominal","scale":{"type":"ordinal","domain":["obs","sim","lo","hi"],"range":[[1,0],[1,0],[6,4],[6,4]]},"legend":null}}},
{"data":{"values":[{"river":"JÖKULSÁ Á BRÚ","letter":"d"}]},
"mark":{"type":"text","align":"left","baseline":"alphabetic","font":"Liberation Sans","fontStyle":"italic","fontSize":21,"color":"black"},
"encoding":{"x":{"datum":127,"type":"quantitative","axis":{"orient":"top","values":[140,160,180,200,220,240,260],"labels":false,"title":null}},"y":{"datum":691,"type":"quantitative"},"text":{"field":"river"}}},
{"data":{"values":[{"river":"JÖKULSÁ Á BRÚ","letter":"d"}]},
"mark":{"type":"text","align":"center","baseline":"alphabetic","font":"Liberation Sans","fontWeight":"bold","fontSize":22,"color":"black"},
"encoding":{"x":{"datum":265.7,"type":"quantitative","axis":null},"y":{"datum":691,"type":"quantitative"},"text":{"field":"letter"}}}
]},
{"data":{"name":"e"},"width":509,"height":215,"resolve":{"axis":{"x":"independent"}},
"layer":[
{"mark":{"type":"line","clip":true,"strokeJoin":"round","color":"black"},
"encoding":{
"x":{"field":"day","type":"quantitative","scale":{"domain":[121.5,271],"nice":false,"zero":false},"axis":{"orient":"bottom","values":[140,160,180,200,220,240,260],"title":"Day in 2000"}},
"y":{"field":"q","type":"quantitative","scale":{"domain":[0,120],"nice":false},"axis":{"values":[0,20,40,60,80,100],"title":null}},
"detail":{"field":"series","type":"nominal"},
"strokeWidth":{"field":"series","type":"nominal","scale":{"type":"ordinal","domain":["obs","sim","lo","hi"],"range":[5,1,1,1]},"legend":null},
"strokeDash":{"field":"series","type":"nominal","scale":{"type":"ordinal","domain":["obs","sim","lo","hi"],"range":[[1,0],[1,0],[6,4],[6,4]]},"legend":null}}},
{"data":{"values":[{"river":"JÖKULSÁ Á FLJÓTSDAL","letter":"e"}]},
"mark":{"type":"text","align":"left","baseline":"alphabetic","font":"Liberation Sans","fontStyle":"italic","fontSize":21,"color":"black"},
"encoding":{"x":{"datum":125.4,"type":"quantitative","axis":{"orient":"top","values":[140,160,180,200,220,240,260],"labels":false,"title":null}},"y":{"datum":104.6,"type":"quantitative"},"text":{"field":"river"}}},
{"data":{"values":[{"river":"JÖKULSÁ Á FLJÓTSDAL","letter":"e"}]},
"mark":{"type":"text","align":"center","baseline":"alphabetic","font":"Liberation Sans","fontWeight":"bold","fontSize":22,"color":"black"},
"encoding":{"x":{"datum":265.7,"type":"quantitative","axis":null},"y":{"datum":104.6,"type":"quantitative"},"text":{"field":"letter"}}}
]}
],
"config":{
"view":{"stroke":null},
"font":"Liberation Sans",
"axis":{"grid":false,"domainColor":"black","tickColor":"black","labelColor":"black","titleColor":"black","domainWidth":1,"tickWidth":1,"tickSize":-5,"labelFont":"DejaVu Sans","labelFontWeight":"bold","labelFontSize":20,"titleFont":"DejaVu Sans","titleFontWeight":"bold","titleFontSize":22,"labelFlush":false,"labelOverlap":false},
"axisX":{"labelPadding":12,"titlePadding":6},
"axisY":{"labelPadding":12}
}
}
